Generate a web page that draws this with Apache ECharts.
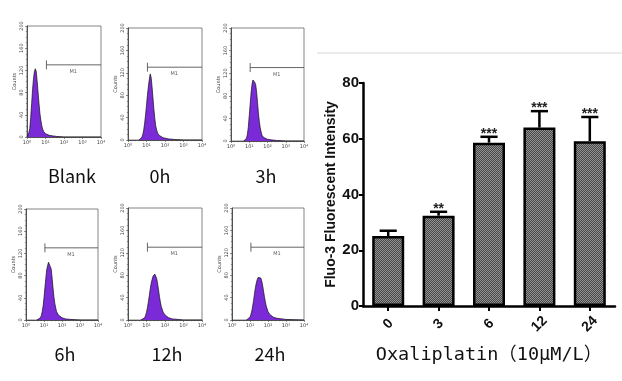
<!DOCTYPE html>
<html><head><meta charset="utf-8">
<script src="https://cdn.jsdelivr.net/npm/echarts@6/dist/echarts.min.js"></script>
<style>html,body{margin:0;padding:0;background:#fff}#c{width:622px;height:381px}</style>
</head><body><div id="c"></div>
<script>
// ---------- data: flow cytometry histograms (x in log10 decades, y = counts) ----------
const histLabels = ['Blank', '0h', '3h', '6h', '12h', '24h'];
const blankDecades = [0.0,0.05,0.1,0.15,0.2,0.25,0.3,0.35,0.4,0.45,0.5,0.55,0.6,0.65,0.7,0.75,0.8,0.85,0.9,0.95,1.0,1.1,1.2,1.3,1.4,1.6,2.0,4.0];
const blankCounts  = [0,3,8,15,35,60,85,105,118,123,118,100,80,60,42,30,20,14,10,8,6,5,3,3,2,1,0,0];
const h0Decades = [0.6,0.7,0.75,0.8,0.85,0.9,0.95,1.0,1.05,1.1,1.15,1.2,1.25,1.3,1.35,1.4,1.45,1.5,1.55,1.6,1.7,1.8,1.9,2.0,2.2,2.5,3.0,4.0];
const h0Counts  = [0,2,5,10,18,30,45,62,80,95,108,118,112,95,75,55,38,25,18,12,8,5,4,3,2,1,0,0];
const h3Decades = [0.7,0.8,0.85,0.9,0.95,1.0,1.05,1.1,1.15,1.2,1.25,1.3,1.35,1.4,1.45,1.5,1.55,1.6,1.65,1.7,1.8,1.9,2.0,2.2,2.5,3.0,4.0];
const h3Counts  = [0,2,5,12,25,45,65,85,100,108,111,104,100,88,70,50,35,24,16,10,6,4,3,2,1,0,0];
const h6Decades = [0.6,0.7,0.8,0.85,0.9,0.95,1.0,1.05,1.1,1.15,1.2,1.25,1.3,1.35,1.4,1.45,1.5,1.55,1.6,1.65,1.7,1.8,1.9,2.0,2.2,2.5,3.0,4.0];
const h6Counts  = [0,1,4,8,15,25,40,58,75,90,98,104,107,102,92,76,58,42,30,22,15,9,6,4,2,1,0,0];
const h12Decades = [0.7,0.8,0.9,0.95,1.0,1.05,1.1,1.15,1.2,1.25,1.3,1.35,1.4,1.45,1.5,1.55,1.6,1.65,1.7,1.75,1.8,1.9,2.0,2.1,2.2,2.4,2.7,3.0,4.0];
const h12Counts  = [0,1,4,8,14,22,32,43,55,65,72,78,81,82,80,74,65,54,42,32,24,14,9,6,4,2,1,0,0];
const h24Decades = [0.8,0.9,1.0,1.05,1.1,1.15,1.2,1.25,1.3,1.35,1.4,1.45,1.5,1.55,1.6,1.65,1.7,1.75,1.8,1.85,1.9,2.0,2.1,2.2,2.3,2.5,2.8,3.0,4.0];
const h24Counts  = [0,1,5,10,16,25,35,47,58,66,72,76,78,77,75,70,62,52,42,33,25,15,10,7,5,3,2,1,0];
const histXTicks = ['10\u2070', '10\u00b9', '10\u00b2', '10\u00b3', '10\u2074'];
const histYTicks = [0, 40, 80, 120, 160, 200];
const m1Start = 1.05, m1End = 4, m1Level = 130, m1Half = 8;
const m1LabelPos = [2.5, 118];

// ---------- data: bar chart ----------
const barCategories = ['0', '3', '6', '12', '24'];
const barMeans  = [25.1, 32.4, 58.6, 64.0, 59.1];
const barErrors = [1.9, 1.4, 2.1, 5.9, 8.7];
const barSig    = ['', '**', '***', '***', '***'];
const barYTicks = [0, 20, 40, 60, 80];

const histSets = [
  [blankDecades, blankCounts], [h0Decades, h0Counts], [h3Decades, h3Counts],
  [h6Decades, h6Counts], [h12Decades, h12Counts], [h24Decades, h24Counts]
];
// layout (px) of each small panel: left, top, width, height, label center x, label y
const panelLayout = [
  [27, 26, 74, 111, 67, 177], [128, 28, 74, 112, 155, 177], [231, 28, 73, 113, 261, 177],
  [26, 209, 72, 111, 60, 355], [128, 208, 74, 112, 162, 355], [232, 208, 72, 112, 265, 355]
];

const grids = [], xAxes = [], yAxes = [], series = [], titles = [];
histSets.forEach((set, i) => {
  const L = panelLayout[i];
  grids.push({left: L[0], top: L[1], width: L[2], height: L[3], show: true, borderColor: '#666', borderWidth: 0.8, backgroundColor: 'transparent'});
  xAxes.push({gridIndex: i, type: 'value', min: 0, max: 4, interval: 1,
    axisLine: {show: true, lineStyle: {color: '#333', width: 0.8}},
    axisTick: {show: true, length: 2, lineStyle: {color: '#444', width: 0.6}},
    minorTick: {show: true, splitNumber: 5, length: 1.2, lineStyle: {color: '#444', width: 0.5}},
    splitLine: {show: false},
    axisLabel: {fontSize: 5, color: '#444', margin: 3, fontFamily: 'DejaVu Sans', formatter: v => histXTicks[v]}});
  yAxes.push({gridIndex: i, type: 'value', min: histYTicks[0], max: histYTicks[histYTicks.length - 1], interval: 40,
    axisLine: {show: true, lineStyle: {color: '#333', width: 0.8}},
    axisTick: {show: true, length: 2, lineStyle: {color: '#444', width: 0.6}},
    minorTick: {show: true, splitNumber: 4, length: 1.2, lineStyle: {color: '#444', width: 0.5}},
    splitLine: {show: false},
    axisLabel: {fontSize: 5, color: '#444', rotate: 90, margin: 3, fontFamily: 'DejaVu Sans'},
    name: 'Counts', nameLocation: 'middle', nameGap: 10,
    nameTextStyle: {fontSize: 5, color: '#444', fontFamily: 'DejaVu Sans'}});
  series.push({type: 'line', xAxisIndex: i, yAxisIndex: i, symbol: 'none', silent: true,
    data: set[0].map((d, k) => [d, set[1][k]]),
    lineStyle: {color: '#111', width: 0.7},
    areaStyle: {color: '#7a2ad6', opacity: 1}});
  series.push({type: 'line', xAxisIndex: i, yAxisIndex: i, symbol: 'none', silent: true,
    data: [[m1Start, m1Level], [m1End, m1Level]], lineStyle: {color: '#555', width: 0.9}});
  series.push({type: 'line', xAxisIndex: i, yAxisIndex: i, symbol: 'none', silent: true,
    data: [[m1Start, m1Level - m1Half], [m1Start, m1Level + m1Half]], lineStyle: {color: '#555', width: 0.9}});
  series.push({type: 'scatter', xAxisIndex: i, yAxisIndex: i, symbolSize: 0, silent: true,
    data: [m1LabelPos],
    label: {show: true, formatter: 'M1', position: 'inside', fontSize: 5, color: '#333', fontFamily: 'DejaVu Sans'}});
  titles.push({text: histLabels[i], left: L[4], top: L[5] - 15, textAlign: 'center',
    textStyle: {fontSize: 18, fontWeight: 'normal', color: '#111', fontFamily: 'Noto Sans CJK SC'}});
});

// bar chart pattern (checkered dark gray)
const pat = document.createElement('canvas');
pat.width = 2; pat.height = 2;
const pctx = pat.getContext('2d');
pctx.fillStyle = '#474747'; pctx.fillRect(0, 0, 2, 2);
pctx.fillStyle = '#939393'; pctx.fillRect(0, 0, 1, 1); pctx.fillRect(1, 1, 1, 1);

const bi = 6;
grids.push({left: 363, top: 83, right: 7, bottom: 75});
xAxes.push({gridIndex: bi, type: 'category', data: barCategories,
  axisLine: {show: true, lineStyle: {color: '#000', width: 2.5}},
  axisTick: {show: true, alignWithLabel: true, length: 5, lineStyle: {color: '#000', width: 2}},
  axisLabel: {rotate: 45, fontSize: 14, fontWeight: 'bold', color: '#111', margin: 18, align: 'center', verticalAlign: 'middle', fontFamily: 'Liberation Sans, Arial, sans-serif'},
  name: 'Oxaliplatin\uff0810\u03bcM/L\uff09', nameLocation: 'middle', nameGap: 40,
  nameTextStyle: {fontSize: 18.5, color: '#111', fontFamily: 'DejaVu Sans Mono, Noto Sans CJK SC'}});
yAxes.push({gridIndex: bi, type: 'value', min: barYTicks[0], max: barYTicks[barYTicks.length - 1], interval: 20,
  axisLine: {show: true, lineStyle: {color: '#000', width: 2.5}},
  axisTick: {show: true, length: 4, lineStyle: {color: '#000', width: 2}},
  splitLine: {show: false},
  axisLabel: {fontSize: 15, fontWeight: 'bold', color: '#111', margin: 4, fontFamily: '"Liberation Sans Narrow", "Liberation Sans", Arial, sans-serif'},
  name: 'Fluo-3 Fluorescent Intensity', nameLocation: 'middle', nameGap: 15,
  nameTextStyle: {fontSize: 14, fontWeight: 'bold', color: '#111', fontFamily: 'Liberation Sans, Arial, sans-serif'}});
series.push({type: 'bar', xAxisIndex: bi, yAxisIndex: bi, data: barMeans, barWidth: 32, silent: true,
  itemStyle: {color: {image: pat, repeat: 'repeat'}, borderColor: '#000', borderWidth: 2.5}});
series.push({type: 'custom', xAxisIndex: bi, yAxisIndex: bi, silent: true, z: 5,
  data: barMeans.map((m, k) => [k, m, barErrors[k]]),
  renderItem: (params, api) => {
    const k = api.value(0), m = api.value(1), e = api.value(2);
    const base = api.coord([k, m]);
    const top = api.coord([k, m + e]);
    const hw = api.size([1, 0])[0] * 0.17;
    return {type: 'group', children: [
      {type: 'line', shape: {x1: base[0], y1: base[1], x2: top[0], y2: top[1]}, style: {stroke: '#000', lineWidth: 2.5}},
      {type: 'line', shape: {x1: top[0] - hw, y1: top[1], x2: top[0] + hw, y2: top[1]}, style: {stroke: '#000', lineWidth: 2.5}},
      {type: 'text', style: {text: barSig[params.dataIndex], x: top[0], y: top[1] + 4, align: 'center', verticalAlign: 'bottom',
        font: 'bold 14px "Liberation Sans", Arial, sans-serif', fill: '#222'}}
    ]};
  }});

const chart = echarts.init(document.getElementById('c'), null, {renderer: 'canvas'});
chart.setOption({
  animation: false,
  backgroundColor: '#fff',
  title: titles,
  grid: grids, xAxis: xAxes, yAxis: yAxes, series: series,
  graphic: [{type: 'line', shape: {x1: 317, y1: 53, x2: 622, y2: 53}, style: {stroke: '#e4e4e4', lineWidth: 1.5}, silent: true}]
});
</script>
</body></html>
